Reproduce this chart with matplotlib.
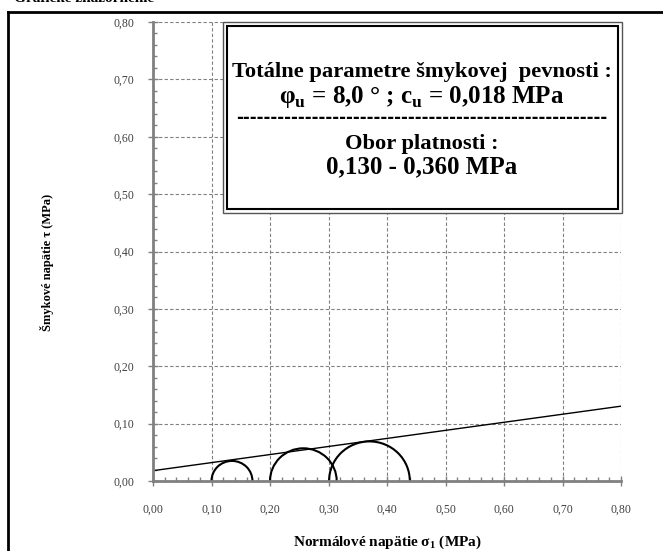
"""
Mohrove kruznice - grafické znázornenie.
"""
import numpy as np
import matplotlib
matplotlib.use('Agg')
import matplotlib.pyplot as plt
from matplotlib.patches import Arc, Rectangle
from matplotlib.ticker import MultipleLocator, FuncFormatter

plt.rcParams['font.family'] = ['Liberation Serif', 'DejaVu Serif']
plt.rcParams['mathtext.fontset'] = 'custom'
plt.rcParams['mathtext.rm'] = 'Liberation Serif'
plt.rcParams['mathtext.bf'] = 'Liberation Serif:bold'

# circles (center, radius) in MPa
centers = [0.135, 0.257, 0.370]
radii = [0.035, 0.057, 0.069]

# failure envelope
phi_u = 8.0      # deg
c_u = 0.018      # MPa
env_x = [0.0, 0.8]

fig = plt.figure(figsize=(6.63, 5.51), dpi=100)
ax = fig.add_axes([153/663, 70/551, 468/663, 459/551])

for c, r in zip(centers, radii):
    ax.add_patch(Arc((c, 0), 2*r, 2*r, theta1=0, theta2=180,
                     color='black', lw=1.5, zorder=3))

env_y = [c_u + x*np.tan(np.radians(phi_u)) for x in env_x]
ax.plot(env_x, env_y, color='black', lw=1.0, zorder=3)

ax.set_xlim(0, 0.8)
ax.set_ylim(0, 0.8)
ax.xaxis.set_major_locator(MultipleLocator(0.1))
ax.yaxis.set_major_locator(MultipleLocator(0.1))
ax.xaxis.set_minor_locator(MultipleLocator(0.02))
ax.yaxis.set_minor_locator(MultipleLocator(0.02))
fmt = FuncFormatter(lambda v, p: f'{v:.2f}'.replace('.', ','))
ax.xaxis.set_major_formatter(fmt)
ax.yaxis.set_major_formatter(fmt)

ax.grid(True, which='major', color='#808080', ls=(0, (3, 2)), lw=0.8)
for s in ['top', 'right']:
    ax.spines[s].set_visible(False)
for s in ['left', 'bottom']:
    ax.spines[s].set_color('#808080')
    ax.spines[s].set_linewidth(2)
    ax.spines[s].set_zorder(4)
ax.tick_params(which='major', direction='inout', length=7, width=1,
               color='#808080', labelsize=8.5, labelcolor='#404040')
ax.tick_params(axis='y', which='major', pad=10)
ax.tick_params(axis='x', which='major', pad=13)
ax.tick_params(which='minor', direction='in', length=3, width=1, color='#808080')

ax.set_ylabel('Šmykové napätie τ (MPa)', fontsize=9, fontweight='bold')
ax.yaxis.set_label_coords(-0.212, 0.477)
ax.set_xlabel(r'Normálové napätie σ$_{\mathbf{1}}$ (MPa)', fontsize=11, fontweight='bold')
ax.xaxis.set_label_coords(0.5, -0.115)

# info box
bx0, bx1 = (223-153)/468, (622-153)/468
by0, by1 = (481-213)/459, (481-22)/459
ax.add_patch(Rectangle((bx0, by0), bx1-bx0, by1-by0, transform=ax.transAxes,
                       facecolor='white', edgecolor='#555555', lw=1, zorder=5, clip_on=False))
dx, dy = 4/468, 4/459
ax.add_patch(Rectangle((bx0+dx, by0+dy), bx1-bx0-2*dx, by1-by0-2*dy, transform=ax.transAxes,
                       facecolor='white', edgecolor='black', lw=1.5, zorder=5, clip_on=False))

lines = [
    ('Totálne parametre šmykovej  pevnosti :', 77, 16.2, 'bold', 'Liberation Serif'),
    (r'φ$_{\mathbf{u}}$ = 8,0 ° ; c$_{\mathbf{u}}$ = 0,018 MPa', 103, 18, 'bold', 'Liberation Serif'),
    ('-' * 54, 123, 12, 'bold', 'DejaVu Sans'),
    ('Obor platnosti :', 149, 16.2, 'bold', 'Liberation Serif'),
    ('0,130 - 0,360 MPa', 173, 18, 'bold', 'Liberation Serif'),
]
for txt, ypx, fs, fw, fam in lines:
    fig.text(422/663, 1 - ypx/551, txt, ha='center', va='baseline',
             fontsize=fs, fontweight=fw, family=fam, zorder=6)

# outer frame and clipped title
fig.add_artist(plt.Line2D([8/663, 8/663], [0, 1 - 12/551], color='black', lw=2))
fig.add_artist(plt.Line2D([8/663, 1], [1 - 12/551, 1 - 12/551], color='black', lw=2))
fig.text(14/663, 1 - 2/551, 'Grafické znázornenie', ha='left', va='baseline',
         fontsize=11, fontweight='bold')

fig.savefig('out.png', dpi=100)
